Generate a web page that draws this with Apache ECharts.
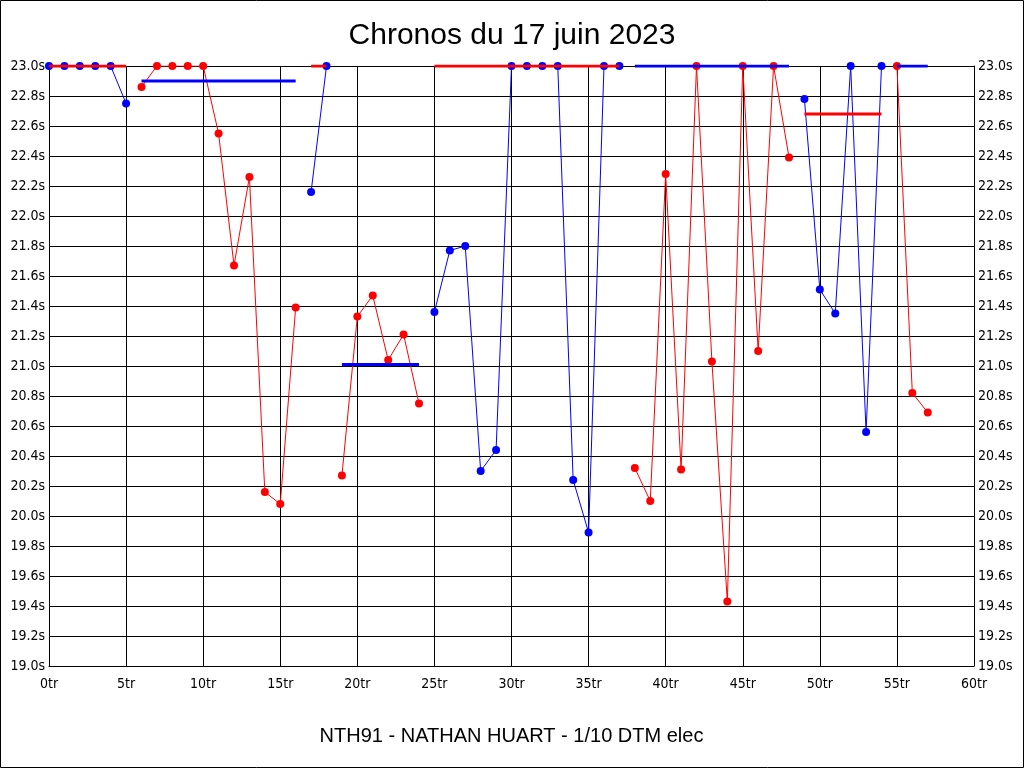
<!DOCTYPE html>
<html>
<head>
<meta charset="utf-8">
<script src="https://cdn.jsdelivr.net/npm/echarts@6/dist/echarts.min.js"></script>
<style>
html,body{margin:0;padding:0;background:#fff;}
#c{width:1024px;height:768px;}
</style>
</head>
<body>
<div id="c"></div>
<script>
// Data
var titleText = 'Chronos du 17 juin 2023';
var driverText = 'NTH91 - NATHAN HUART - 1/10 DTM elec';
var stintStartLaps = [0, 6, 17, 19, 25, 38, 49, 55];
var stint1 = [23.0, 23.0, 23.0, 23.0, 23.0, 22.75];
var stint2 = [22.86, 23.0, 23.0, 23.0, 23.0, 22.55, 21.67, 22.26, 20.16, 20.08, 21.39];
var stint3 = [22.16, 23.0];
var stint4 = [20.27, 21.33, 21.47, 21.04, 21.21, 20.75];
var stint5 = [21.36, 21.77, 21.80, 20.30, 20.44, 23.0, 23.0, 23.0, 23.0, 20.24, 19.89, 23.0, 23.0];
var stint6 = [20.32, 20.10, 22.28, 20.31, 23.0, 21.03, 19.43, 23.0, 21.10, 23.0, 22.39];
var stint7 = [22.78, 21.51, 21.35, 23.0, 20.56, 23.0];
var stint8 = [23.0, 20.82, 20.69];
var stintAverages = [23.0, 22.9, 23.0, 21.01, 23.0, 23.0, 22.68, 23.0];
var stintColors = ['#0000ff', '#ff0000'];
var xTickSuffix = 'tr';
var yTickSuffix = 's';

var stints = [stint1, stint2, stint3, stint4, stint5, stint6, stint7, stint8];
var labelFont = "'Liberation Sans Narrow','DejaVu Sans Condensed','Roboto Condensed',sans-serif";

var series = [];
stints.forEach(function (times, i) {
  var start = stintStartLaps[i];
  var col = stintColors[i % 2];
  var pts = times.map(function (t, k) { return [start + k, t]; });
  series.push({
    type: 'line', data: pts, symbol: 'circle', symbolSize: 8,
    itemStyle: { color: col }, lineStyle: { color: col, width: 1 },
    animation: false, z: 3
  });
});
stints.forEach(function (times, i) {
  var start = stintStartLaps[i];
  var end = start + times.length - 1;
  var col = stintColors[(i + 1) % 2];
  series.push({
    type: 'line', data: [[start, stintAverages[i]], [end, stintAverages[i]]],
    symbol: 'none', lineStyle: { color: col, width: 3 }, animation: false, z: 4
  });
});

var chart = echarts.init(document.getElementById('c'), null, { renderer: 'canvas' });
chart.setOption({
  backgroundColor: '#fff',
  animation: false,
  title: {
    text: titleText, left: 'center', top: 16,
    textStyle: { fontFamily: "'Liberation Sans',Arial,sans-serif", fontSize: 30, fontWeight: 'normal', color: '#000' }
  },
  graphic: [{
    type: 'rect', shape: { x: 0.5, y: 0.5, width: 1023, height: 767 },
    style: { fill: 'none', stroke: '#000', lineWidth: 1 }, silent: true
  }],
  grid: { left: 49, right: 50, top: 66, bottom: 102 },
  xAxis: {
    type: 'value', min: 0, max: 60, interval: 5,
    name: driverText, nameLocation: 'middle', nameGap: 60,
    nameTextStyle: { fontFamily: "'Liberation Sans',Arial,sans-serif", fontSize: 20, color: '#000' },
    axisLine: { show: true, lineStyle: { color: '#000', width: 1 } },
    axisTick: { show: false },
    axisLabel: { formatter: function (v) { return v + xTickSuffix; }, color: '#000', fontSize: 14, fontFamily: labelFont, margin: 11 },
    splitLine: { show: true, lineStyle: { color: '#000', width: 1 } }
  },
  yAxis: [{
    type: 'value', min: 19, max: 23, interval: 0.2,
    axisLine: { show: true, lineStyle: { color: '#000', width: 1 } },
    axisTick: { show: false },
    axisLabel: { formatter: function (v) { return v.toFixed(1) + yTickSuffix; }, color: '#000', fontSize: 14, fontFamily: labelFont, margin: 4 },
    splitLine: { show: true, lineStyle: { color: '#000', width: 1 } }
  }, {
    type: 'value', min: 19, max: 23, interval: 0.2, position: 'right',
    axisLine: { show: true, lineStyle: { color: '#000', width: 1 } },
    axisTick: { show: false },
    axisLabel: { formatter: function (v) { return v.toFixed(1) + yTickSuffix; }, color: '#000', fontSize: 14, fontFamily: labelFont, margin: 4 },
    splitLine: { show: false }
  }],
  series: series
});
</script>
</body>
</html>
